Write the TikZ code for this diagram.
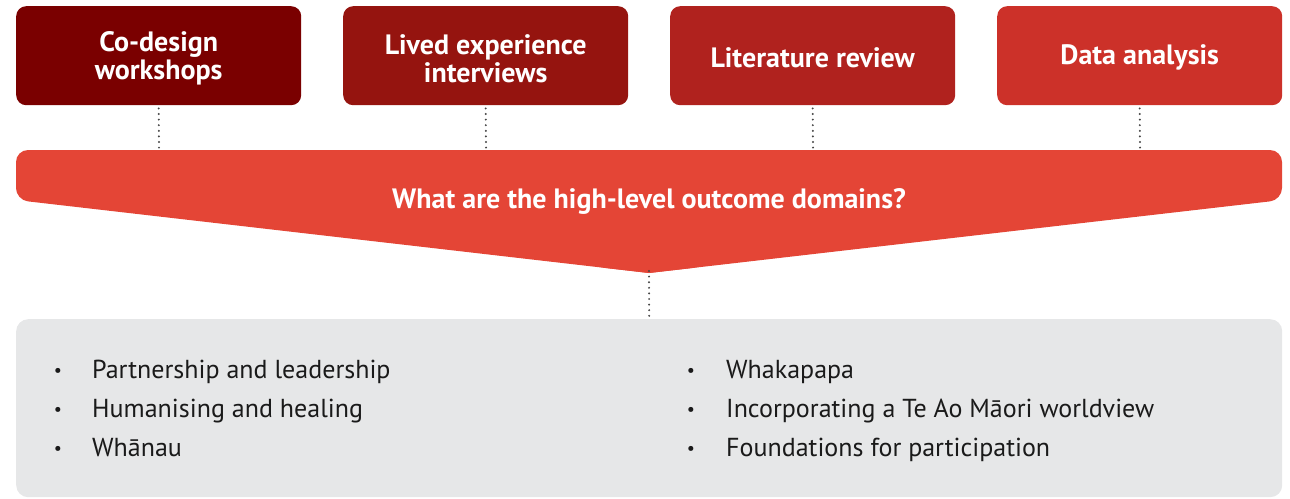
\documentclass[tikz,border=0pt]{standalone}
\usepackage{fontspec}
\setmainfont{PT Sans}
\definecolor{cA}{HTML}{7A0000}
\definecolor{cB}{HTML}{95140F}
\definecolor{cC}{HTML}{B0221E}
\definecolor{cD}{HTML}{CC3129}
\definecolor{funnel}{HTML}{E44536}
\definecolor{panel}{HTML}{E6E7E8}
\definecolor{dotc}{HTML}{444444}
\definecolor{txt}{HTML}{1A1A1A}
\tikzset{
  srcbox/.style={rounded corners=10pt, minimum width=285pt, minimum height=99pt, inner sep=0pt, anchor=north west},
  srctext/.style={inner sep=0pt, text=white, font=\fontsize{28}{28}\selectfont\bfseries, align=center},
  dotline/.style={draw=dotc, line width=2.2pt, line cap=round, dash pattern=on 0pt off 5.6pt},
  item/.style={anchor=base west, text=txt, font=\fontsize{26}{28}\selectfont, inner sep=0pt},
  bul/.style={anchor=center, text=txt, font=\fontsize{18}{18}\selectfont, inner sep=0pt}
}
\begin{document}
\begin{tikzpicture}[x=1pt,y=-1pt]
\useasboundingbox (0,0) rectangle (1290,498);
\node[srcbox, fill=cA] (b1) at (16,6) {};
\node[srcbox, fill=cB] (b2) at (343,6) {};
\node[srcbox, fill=cC] (b3) at (670,6) {};
\node[srcbox, fill=cD] (b4) at (997,6) {};
\node[srctext] (l1) at ([yshift=-3pt]b1.center) {Co-design\\workshops};
\node[srctext] (l2) at ([yshift=-3pt]b2.center) {Lived experience\\interviews};
\node[srctext] (l3) at ([yshift=-2pt]b3.center) {Literature review};
\node[srctext] (l4) at ([yshift=-2pt]b4.center) {Data analysis};
% funnel
\fill[funnel] (649,273) [rounded corners=12pt] -- (16,200) -- (16,150) -- (1282,150) -- (1282,200) [sharp corners] -- cycle;
\fill[funnel] (649,273) -- (600,267.35) -- (698,267.35) -- cycle;
\node[text=white, font=\fontsize{28}{28}\selectfont\bfseries, inner sep=0pt] (q) at (649,201) {What are the high-level outcome domains?};
\coordinate (tip) at (649,274);
\foreach \i/\x in {1/159,2/486,3/813,4/1140}{
  \coordinate (t\i) at (\x,148);
  \draw[dotline] ([yshift=-3pt]b\i.south) -- (t\i);
}
% panel
\node[fill=panel, rounded corners=12pt, minimum width=1266pt, minimum height=178pt, anchor=north west, inner sep=0pt] (panel) at (16,319) {};
\draw[dotline] ([yshift=3pt]tip) -- ([yshift=-2pt]panel.north);
% items
\foreach \y/\t in {378/Partnership and leadership,417/Humanising and healing,456/Wh\=anau}{
  \node[bul] at (58,\y-6) {•};
  \node[item] at (92,\y) {\t};
}
\foreach \y/\t in {378/Whakapapa,417/Incorporating a Te Ao M\=aori worldview,456/Foundations for participation}{
  \node[bul] at (691,\y-6) {•};
  \node[item] at (726,\y) {\t};
}
\end{tikzpicture}
\end{document}
